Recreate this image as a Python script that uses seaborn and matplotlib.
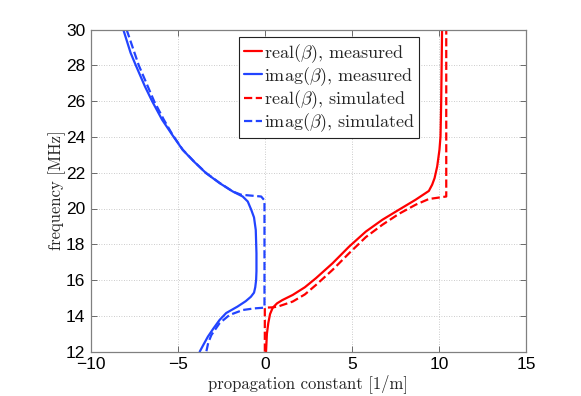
import matplotlib
matplotlib.use("Agg")
import matplotlib.pyplot as plt
import seaborn as sns
import pandas as pd

# imag(beta), measured
imag_meas_x = [-8.13, -7.71, -7.41, -6.89, -6.47, -5.90, -5.32, -4.72, -4.08, -3.38, -2.60, -1.84, -1.27,
               -0.98, -0.78, -0.62, -0.52, -0.48, -0.48, -0.5, -0.55, -0.62, -0.8, -1.1, -1.57, -2.22,
               -2.6, -2.95, -3.27, -3.52, -3.74]
imag_meas_y = [30.0, 28.7, 28.0, 26.83, 25.99, 24.96, 24.12, 23.28, 22.63, 21.98, 21.42, 20.95, 20.67,
               20.39, 19.93, 19.5, 18.8, 17.5, 16.5, 16.0, 15.6, 15.3, 15.07, 14.82, 14.52, 14.16,
               13.77, 13.3, 12.84, 12.4, 12.0]
# imag(beta), simulated
imag_sim_x = [-7.94, -7.24, -6.36, -5.80, -5.30, -4.71, -4.07, -3.37, -2.58, -1.84, -1.36, -0.21, -0.02,
              -0.02, -0.6, -1.26, -2.03, -2.6, -3.07, -3.25, -3.36]
imag_sim_y = [30.0, 28.0, 26.0, 24.96, 24.12, 23.28, 22.63, 21.98, 21.42, 20.95, 20.77, 20.67, 20.45,
              14.46, 14.42, 14.33, 14.05, 13.59, 12.93, 12.5, 12.0]
# real(beta), measured
real_meas_x = [0.07, 0.12, 0.2, 0.3, 0.45, 0.7, 1.0, 1.6, 2.3, 2.94, 3.89, 4.84, 5.8, 6.75, 7.7,
               8.66, 9.14, 9.42, 9.61, 9.75, 9.9, 10.03, 10.09, 10.13, 10.18]
real_meas_y = [12.0, 13.0, 13.6, 14.1, 14.45, 14.7, 14.88, 15.17, 15.6, 16.11, 16.94, 17.87, 18.71,
               19.37, 19.93, 20.49, 20.8, 20.98, 21.33, 21.7, 22.35, 23.28, 24.03, 26.0, 30.0]
# real(beta), simulated
real_sim_x = [0.0, 0.0, 0.5, 0.84, 1.6, 2.3, 2.94, 3.89, 4.84, 5.8, 6.75, 7.7, 8.66, 9.42, 10.42, 10.42]
real_sim_y = [12.0, 14.46, 14.48, 14.55, 14.8, 15.2, 15.73, 16.57, 17.5, 18.4, 19.09, 19.7, 20.21,
              20.53, 20.67, 30.0]

x_ticks = [-10, -5, 0, 5, 10, 15]
y_ticks = [12, 14, 16, 18, 20, 22, 24, 26, 28, 30]

labels = [r"real($\beta$), measured", r"imag($\beta$), measured",
          r"real($\beta$), simulated", r"imag($\beta$), simulated"]

sns.set_style("white")
plt.rcParams["mathtext.fontset"] = "cm"
plt.rcParams["axes.unicode_minus"] = True

fig = plt.figure(figsize=(5.81, 3.96), dpi=100)
ax = fig.add_axes([90.7 / 581, 1 - 351.7 / 396, (526 - 90.7) / 581, (351.7 - 29.5) / 396])

red = "#ff0000"
blue = "#2244ff"
lw = 1.6
dash = (2.0, 1.4)

series = [
    (real_meas_x, real_meas_y, red, "-", labels[0]),
    (imag_meas_x, imag_meas_y, blue, "-", labels[1]),
    (real_sim_x, real_sim_y, red, "--", labels[2]),
    (imag_sim_x, imag_sim_y, blue, "--", labels[3]),
]
for xs, ys, c, ls, lab in series:
    df = pd.DataFrame({"x": xs, "y": ys})
    kw = {}
    if ls == "--":
        kw["dashes"] = dash
    sns.lineplot(data=df, x="x", y="y", sort=False, estimator=None, color=c,
                 linestyle=ls, linewidth=lw, label=lab, ax=ax, **kw)

ax.set_xlim(-10, 15)
ax.set_ylim(12, 30)
ax.set_xticks(x_ticks)
ax.set_yticks(y_ticks)
ax.set_xticklabels([("\u2212" + str(-t)) if t < 0 else str(t) for t in x_ticks],
                   family="Liberation Sans", fontsize=12.5)
ax.set_yticklabels([str(t) for t in y_ticks], family="Liberation Sans", fontsize=12.5)
ax.tick_params(direction="in", length=4, width=0.6, color="#555555", pad=4,
               top=True, right=True, bottom=True, left=True, labelcolor="black")
ax.grid(True, linestyle=(0, (1, 2)), color="#bbbbbb", linewidth=0.6)
for s in ax.spines.values():
    s.set_color("#808080")
    s.set_linewidth(0.9)

ax.set_xlabel("propagation constant [1/m]", family="cmr10", fontsize=12, labelpad=1)
ax.set_ylabel("frequency [MHz]", family="cmr10", fontsize=12, labelpad=0)

leg = ax.legend(loc="upper left", bbox_to_anchor=(239.3 / 581, 1 - 37.3 / 396),
                bbox_transform=fig.transFigure, borderaxespad=0,
                prop={"family": "cmr10", "size": 13}, handlelength=1.0,
                handletextpad=0.1, labelspacing=0.02, borderpad=0.25,
                frameon=True, fancybox=False, framealpha=1)
leg.get_frame().set_edgecolor("#222222")
leg.get_frame().set_linewidth(0.8)

fig.savefig("out.png", dpi=100)
